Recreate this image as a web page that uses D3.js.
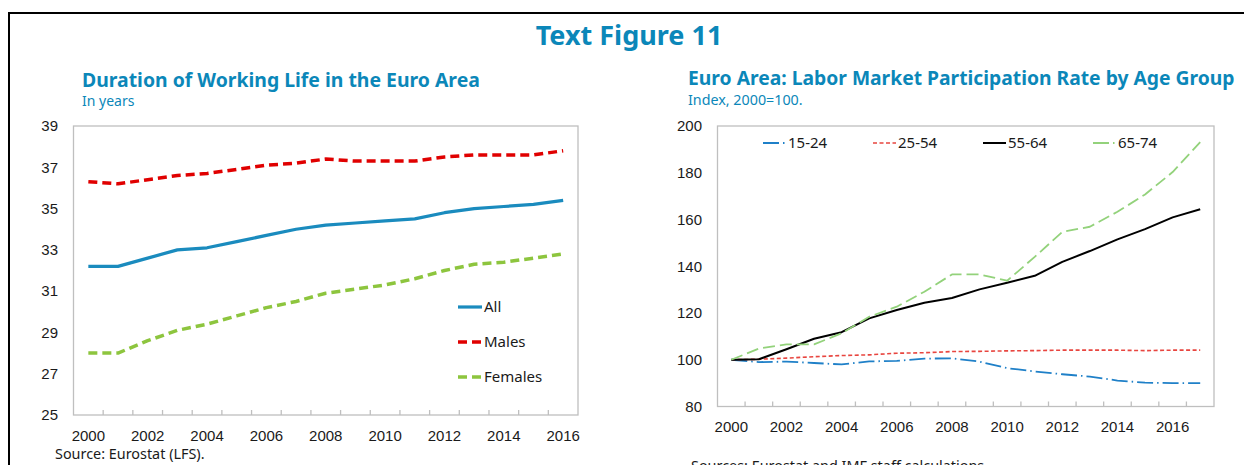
<!DOCTYPE html>
<html>
<head>
<meta charset="utf-8">
<script src="https://cdn.jsdelivr.net/npm/d3@7/dist/d3.min.js"></script>
<style>
  html, body { margin: 0; padding: 0; background: #fff; }
  svg { display: block; font-family: "Noto Sans", "Open Sans", sans-serif; }
</style>
</head>
<body>
<svg id="fig" width="1244" height="465"></svg>
<script>
// ---- Working life (years), 2000-2016
const lifeYears = d3.range(2000, 2017);
const lifeAll     = [32.2, 32.2, 32.6, 33.0, 33.1, 33.4, 33.7, 34.0, 34.2, 34.3, 34.4, 34.5, 34.8, 35.0, 35.1, 35.2, 35.4];
const lifeMales   = [36.3, 36.2, 36.4, 36.6, 36.7, 36.9, 37.1, 37.2, 37.4, 37.3, 37.3, 37.3, 37.5, 37.6, 37.6, 37.6, 37.8];
const lifeFemales = [28.0, 28.0, 28.6, 29.1, 29.4, 29.8, 30.2, 30.5, 30.9, 31.1, 31.3, 31.6, 32.0, 32.3, 32.4, 32.6, 32.8];
const lifeYTicks = [25, 27, 29, 31, 33, 35, 37, 39];

// ---- Participation index (2000=100), 2000-2017
const partYears = d3.range(2000, 2018);
const part1524 = [100, 99.0, 99.2, 98.6, 98.0, 99.3, 99.5, 100.5, 100.6, 99.2, 96.4, 95.0, 93.8, 92.8, 91.1, 90.2, 90.0, 90.0];
const part2554 = [100, 100.2, 100.7, 101.3, 101.8, 102.1, 102.8, 103.0, 103.5, 103.6, 103.8, 103.9, 104.1, 104.1, 104.1, 103.9, 104.1, 104.1];
const part5564 = [100, 100.2, 104.5, 109.0, 111.8, 117.7, 121.3, 124.4, 126.4, 130.1, 132.9, 135.9, 141.9, 146.5, 151.5, 155.9, 160.9, 164.4];
const part6574 = [100, 104.8, 106.6, 106.6, 111.3, 118.4, 122.7, 129.1, 136.5, 136.5, 133.8, 144.0, 154.7, 156.9, 163.3, 170.7, 180.3, 193.1];
const partYTicks = [80, 100, 120, 140, 160, 180, 200];

const xLabelYears = d3.range(2000, 2017, 2);

const TEAL = "#0B87B9";
const svg = d3.select("#fig");

// outer frame
svg.append("path")
  .attr("d", "M9,465V13H1244")
  .attr("fill", "none").attr("stroke", "#000").attr("stroke-width", 2);

svg.append("text")
  .attr("x", 629).attr("y", 45).attr("text-anchor", "middle")
  .attr("font-size", 27).attr("font-weight", 700).attr("fill", TEAL)
  .text("Text Figure 11");

function panel(cfg) {
  const g = svg.append("g");
  const x = d3.scaleBand().domain(cfg.years).range([cfg.left, cfg.right]).paddingInner(0).paddingOuter(0);
  const y = d3.scaleLinear().domain(cfg.yDomain).range([cfg.bottom, cfg.top]);
  const cx = d => x(d) + x.bandwidth() / 2;

  // headings
  g.append("text").attr("x", cfg.titleX).attr("y", cfg.titleY)
    .attr("font-size", cfg.titleSize).attr("font-weight", 700).attr("fill", TEAL)
    .text(cfg.title);
  g.append("text").attr("x", cfg.titleX).attr("y", cfg.subY)
    .attr("font-size", cfg.subSize).attr("fill", TEAL).text(cfg.sub);

  // plot frame
  g.append("rect")
    .attr("x", cfg.left).attr("y", cfg.top)
    .attr("width", cfg.right - cfg.left).attr("height", cfg.bottom - cfg.top)
    .attr("fill", "none").attr("stroke", "#BFBFBF").attr("stroke-width", 1.3);

  // tick marks between categories, pointing into the plot
  g.append("g").selectAll("line").data(cfg.years.slice(1)).join("line")
    .attr("x1", d => x(d)).attr("x2", d => x(d))
    .attr("y1", cfg.bottom).attr("y2", cfg.bottom - 5)
    .attr("stroke", "#BFBFBF").attr("stroke-width", 1.3);

  // x labels
  const xa = d3.axisBottom(x).tickValues(xLabelYears).tickSize(0).tickPadding(cfg.xPad);
  const xg = g.append("g").attr("transform", `translate(0,${cfg.bottom})`).call(xa);
  xg.select(".domain").remove();
  xg.selectAll("text").attr("font-size", 15).attr("fill", "#1a1a1a").attr("font-family", null);

  // y labels
  const ya = d3.axisLeft(y).tickValues(cfg.yTicks).tickSize(0).tickPadding(cfg.left - cfg.yLabelX);
  const yg = g.append("g").attr("transform", `translate(${cfg.left},0)`).call(ya);
  yg.select(".domain").remove();
  yg.selectAll("text").attr("font-size", 15).attr("fill", "#1a1a1a").attr("font-family", null);

  // series
  const line = d3.line().x((d, i) => cx(cfg.years[i])).y(d => y(d));
  cfg.series.forEach(s => {
    g.append("path").datum(s.values)
      .attr("d", line)
      .attr("fill", "none").attr("stroke", s.color).attr("stroke-width", s.width)
      .attr("stroke-dasharray", s.dash || null)
      .attr("stroke-linejoin", "round");
  });

  // legend
  cfg.series.forEach((s, i) => {
    const lx = cfg.legend.x + i * cfg.legend.dx, ly = cfg.legend.y + i * cfg.legend.dy;
    g.append("line").attr("x1", lx).attr("x2", lx + cfg.legend.len)
      .attr("y1", ly).attr("y2", ly)
      .attr("stroke", s.color).attr("stroke-width", s.width)
      .attr("stroke-dasharray", s.legendDash || s.dash || null);
    g.append("text").attr("x", lx + cfg.legend.len + 2).attr("y", ly)
      .attr("dy", "0.35em").attr("font-size", 15).attr("fill", "#1a1a1a")
      .text(s.name);
  });

  g.append("text").attr("x", cfg.srcX).attr("y", cfg.srcY)
    .attr("font-size", 14.4).attr("fill", "#1a1a1a").text(cfg.source);
}

panel({
  years: lifeYears, yDomain: [25, 39], yTicks: lifeYTicks,
  left: 73.5, right: 578, top: 126, bottom: 415, yLabelX: 58, xPad: 15,
  title: "Duration of Working Life in the Euro Area", titleX: 82, titleY: 87, titleSize: 19.4,
  sub: "In years", subY: 106, subSize: 14,
  series: [
    { name: "All", values: lifeAll, color: "#1A8BBE", width: 3.2 },
    { name: "Males", values: lifeMales, color: "#E00000", width: 3.5, dash: "9,5", legendDash: "9,5" },
    { name: "Females", values: lifeFemales, color: "#8DC53E", width: 3.5, dash: "9,5", legendDash: "9,5" }
  ],
  legend: { x: 458, y: 307, dx: 0, dy: 35, len: 24 },
  source: "Source: Eurostat (LFS).", srcX: 55, srcY: 459
});

panel({
  years: partYears, yDomain: [80, 200], yTicks: partYTicks,
  left: 717.5, right: 1214, top: 126, bottom: 406.5, yLabelX: 702, xPad: 15,
  title: "Euro Area: Labor Market Participation Rate by Age Group", titleX: 688, titleY: 85, titleSize: 19.3,
  sub: "Index, 2000=100.", subY: 105, subSize: 14.3,
  series: [
    { name: "15-24", values: part1524, color: "#1F80C8", width: 1.8, dash: "16,4,1.5,4", legendDash: "16,4,1.5,4" },
    { name: "25-54", values: part2554, color: "#E8453F", width: 1.6, dash: "4,2.5" },
    { name: "55-64", values: part5564, color: "#000000", width: 2 },
    { name: "65-74", values: part6574, color: "#93D27B", width: 1.8, dash: "12,5", legendDash: "16,4,1.5,4" }
  ],
  legend: { x: 763, y: 143, dx: 110, dy: 0, len: 23 },
  source: "Sources: Eurostat and IMF staff calculations.", srcX: 691, srcY: 471
});
</script>
</body>
</html>
